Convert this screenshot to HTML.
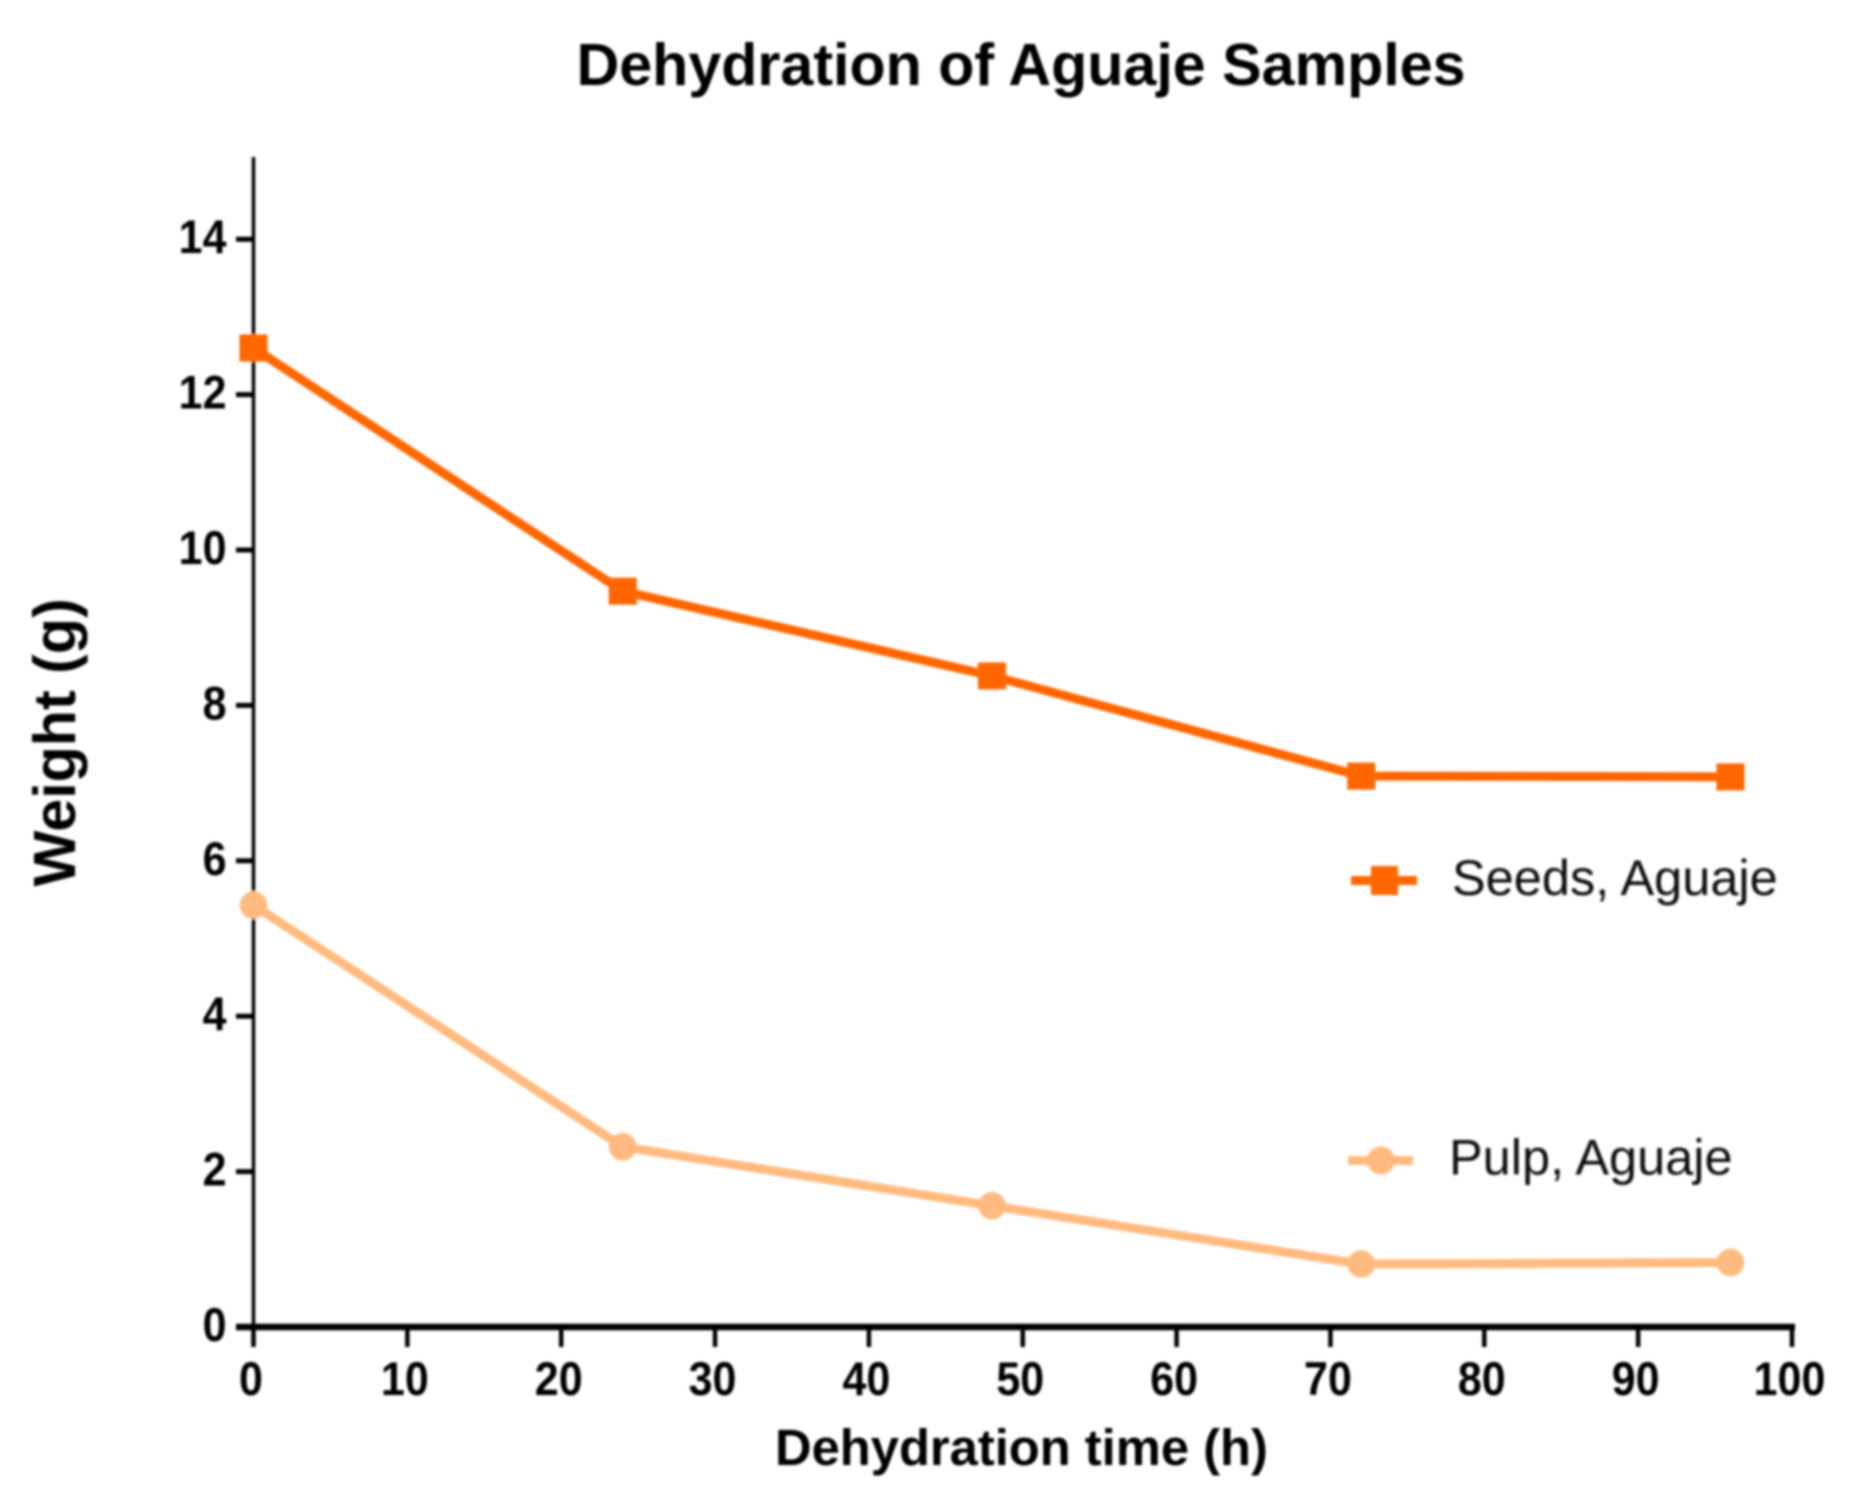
<!DOCTYPE html>
<html lang="en">
<head>
<meta charset="utf-8">
<title>Dehydration of Aguaje Samples</title>
<style>
  html, body { margin: 0; padding: 0; background: #fff; }
  svg { display: block; }
  text { font-family: "Liberation Sans", Arial, sans-serif; }
</style>
</head>
<body>
<svg id="chart" xmlns="http://www.w3.org/2000/svg" width="1854" height="1506" viewBox="0 0 1854 1506">
  <defs>
    <filter id="soft" x="-2%" y="-2%" width="104%" height="104%">
      <feGaussianBlur stdDeviation="1.3"/>
    </filter>
  </defs>
  <rect x="0" y="0" width="1854" height="1506" fill="#ffffff"/>
  <g id="root" filter="url(#soft)">
    <text x="576.5" y="85" font-size="59.2" font-weight="700" fill="#000">Dehydration of Aguaje Samples</text>
    <text x="775" y="1465" font-size="50.7" font-weight="700" fill="#000">Dehydration time (h)</text>
    <text transform="translate(75,886.5) rotate(-90)" x="0" y="0" font-size="59.2" font-weight="700" fill="#000">Weight (g)</text>
    <g id="axes"></g>
    <g id="series"></g>
    <g>
      <rect x="1351" y="876" width="66" height="9" fill="#FF6600"/>
      <rect x="1371" y="866" width="27" height="29" fill="#FF6600"/>
      <text x="1452" y="895" font-size="50.5" fill="#0a0a0a">Seeds, Aguaje</text>
    </g>
    <g>
      <rect x="1348" y="1156" width="65" height="9" fill="#FFBB7F"/>
      <circle cx="1381" cy="1160.5" r="14" fill="#FFBB7F"/>
      <text x="1449" y="1174.5" font-size="50.5" fill="#0a0a0a">Pulp, Aguaje</text>
    </g>
  </g>
</svg>
<script>
const hours = [0, 24, 48, 72, 96];
const seedsWeight = [12.6, 9.47, 8.38, 7.09, 7.08];
const pulpWeight = [5.43, 2.32, 1.56, 0.81, 0.83];
const xTickValues = [0, 10, 20, 30, 40, 50, 60, 70, 80, 90, 100];
const yTickValues = [0, 2, 4, 6, 8, 10, 12, 14];

const NS = 'http://www.w3.org/2000/svg';
function xScale(v) { return 253.5 + v * 15.385; }
function yScale(v) { return 1327 - v * 77.7; }
function make(tag, attrs, parent) {
  const el = document.createElementNS(NS, tag);
  for (const k in attrs) el.setAttribute(k, attrs[k]);
  parent.appendChild(el);
  return el;
}

const axes = document.getElementById('axes');
const yAxisLine = make('line', { x1: xScale(0), x2: xScale(0), y1: 157, y2: 1347, stroke: '#000', 'stroke-width': 3.5 }, axes);


const xAxisLine = make('line', { x1: 236, x2: xScale(100) + 3, y1: yScale(0), y2: yScale(0), stroke: '#000', 'stroke-width': 6.5 }, axes);



xTickValues.forEach(function (v) {
  const tick = make('line', { x1: xScale(v), x2: xScale(v), y1: yScale(0), y2: yScale(0) + 20, stroke: '#000', 'stroke-width': 4.5 }, axes);
  
  
  const label = make('text', { transform: 'translate(' + (xScale(v) - 2.5) + ',1395) scale(1,1.09)', 'text-anchor': 'middle', 'font-size': 43, 'font-weight': 700, fill: '#000' }, axes);
  label.textContent = String(v);
  
  
});

yTickValues.forEach(function (v) {
  const tick = make('line', { x1: 236, x2: xScale(0), y1: yScale(v), y2: yScale(v), stroke: '#000', 'stroke-width': 5 }, axes);
  
  
  const label = make('text', { transform: 'translate(226.5,' + (yScale(v) + 14) + ') scale(1,1.09)', 'text-anchor': 'end', 'font-size': 43, 'font-weight': 700, fill: '#000' }, axes);
  label.textContent = String(v);
  
  
});

const seriesGroup = document.getElementById('series');

const seedsLine = make('polyline', {
  points: hours.map(function (h, i) { return xScale(h) + ',' + yScale(seedsWeight[i]); }).join(' '),
  fill: 'none', stroke: '#FF6600', 'stroke-width': 9, 'stroke-linejoin': 'miter'
}, seriesGroup);


hours.forEach(function (h, i) {
  const s = make('rect', { x: xScale(h) - 14, y: yScale(seedsWeight[i]) - 13.5, width: 28, height: 27, fill: '#FF6600' }, seriesGroup);
  
  
});

const pulpLine = make('polyline', {
  points: hours.map(function (h, i) { return xScale(h) + ',' + yScale(pulpWeight[i]); }).join(' '),
  fill: 'none', stroke: '#FFBB7F', 'stroke-width': 9, 'stroke-linejoin': 'miter'
}, seriesGroup);


hours.forEach(function (h, i) {
  const c = make('circle', { cx: xScale(h), cy: yScale(pulpWeight[i]), r: 13.8, fill: '#FFBB7F' }, seriesGroup);
  
  
});
</script>
</body>
</html>
